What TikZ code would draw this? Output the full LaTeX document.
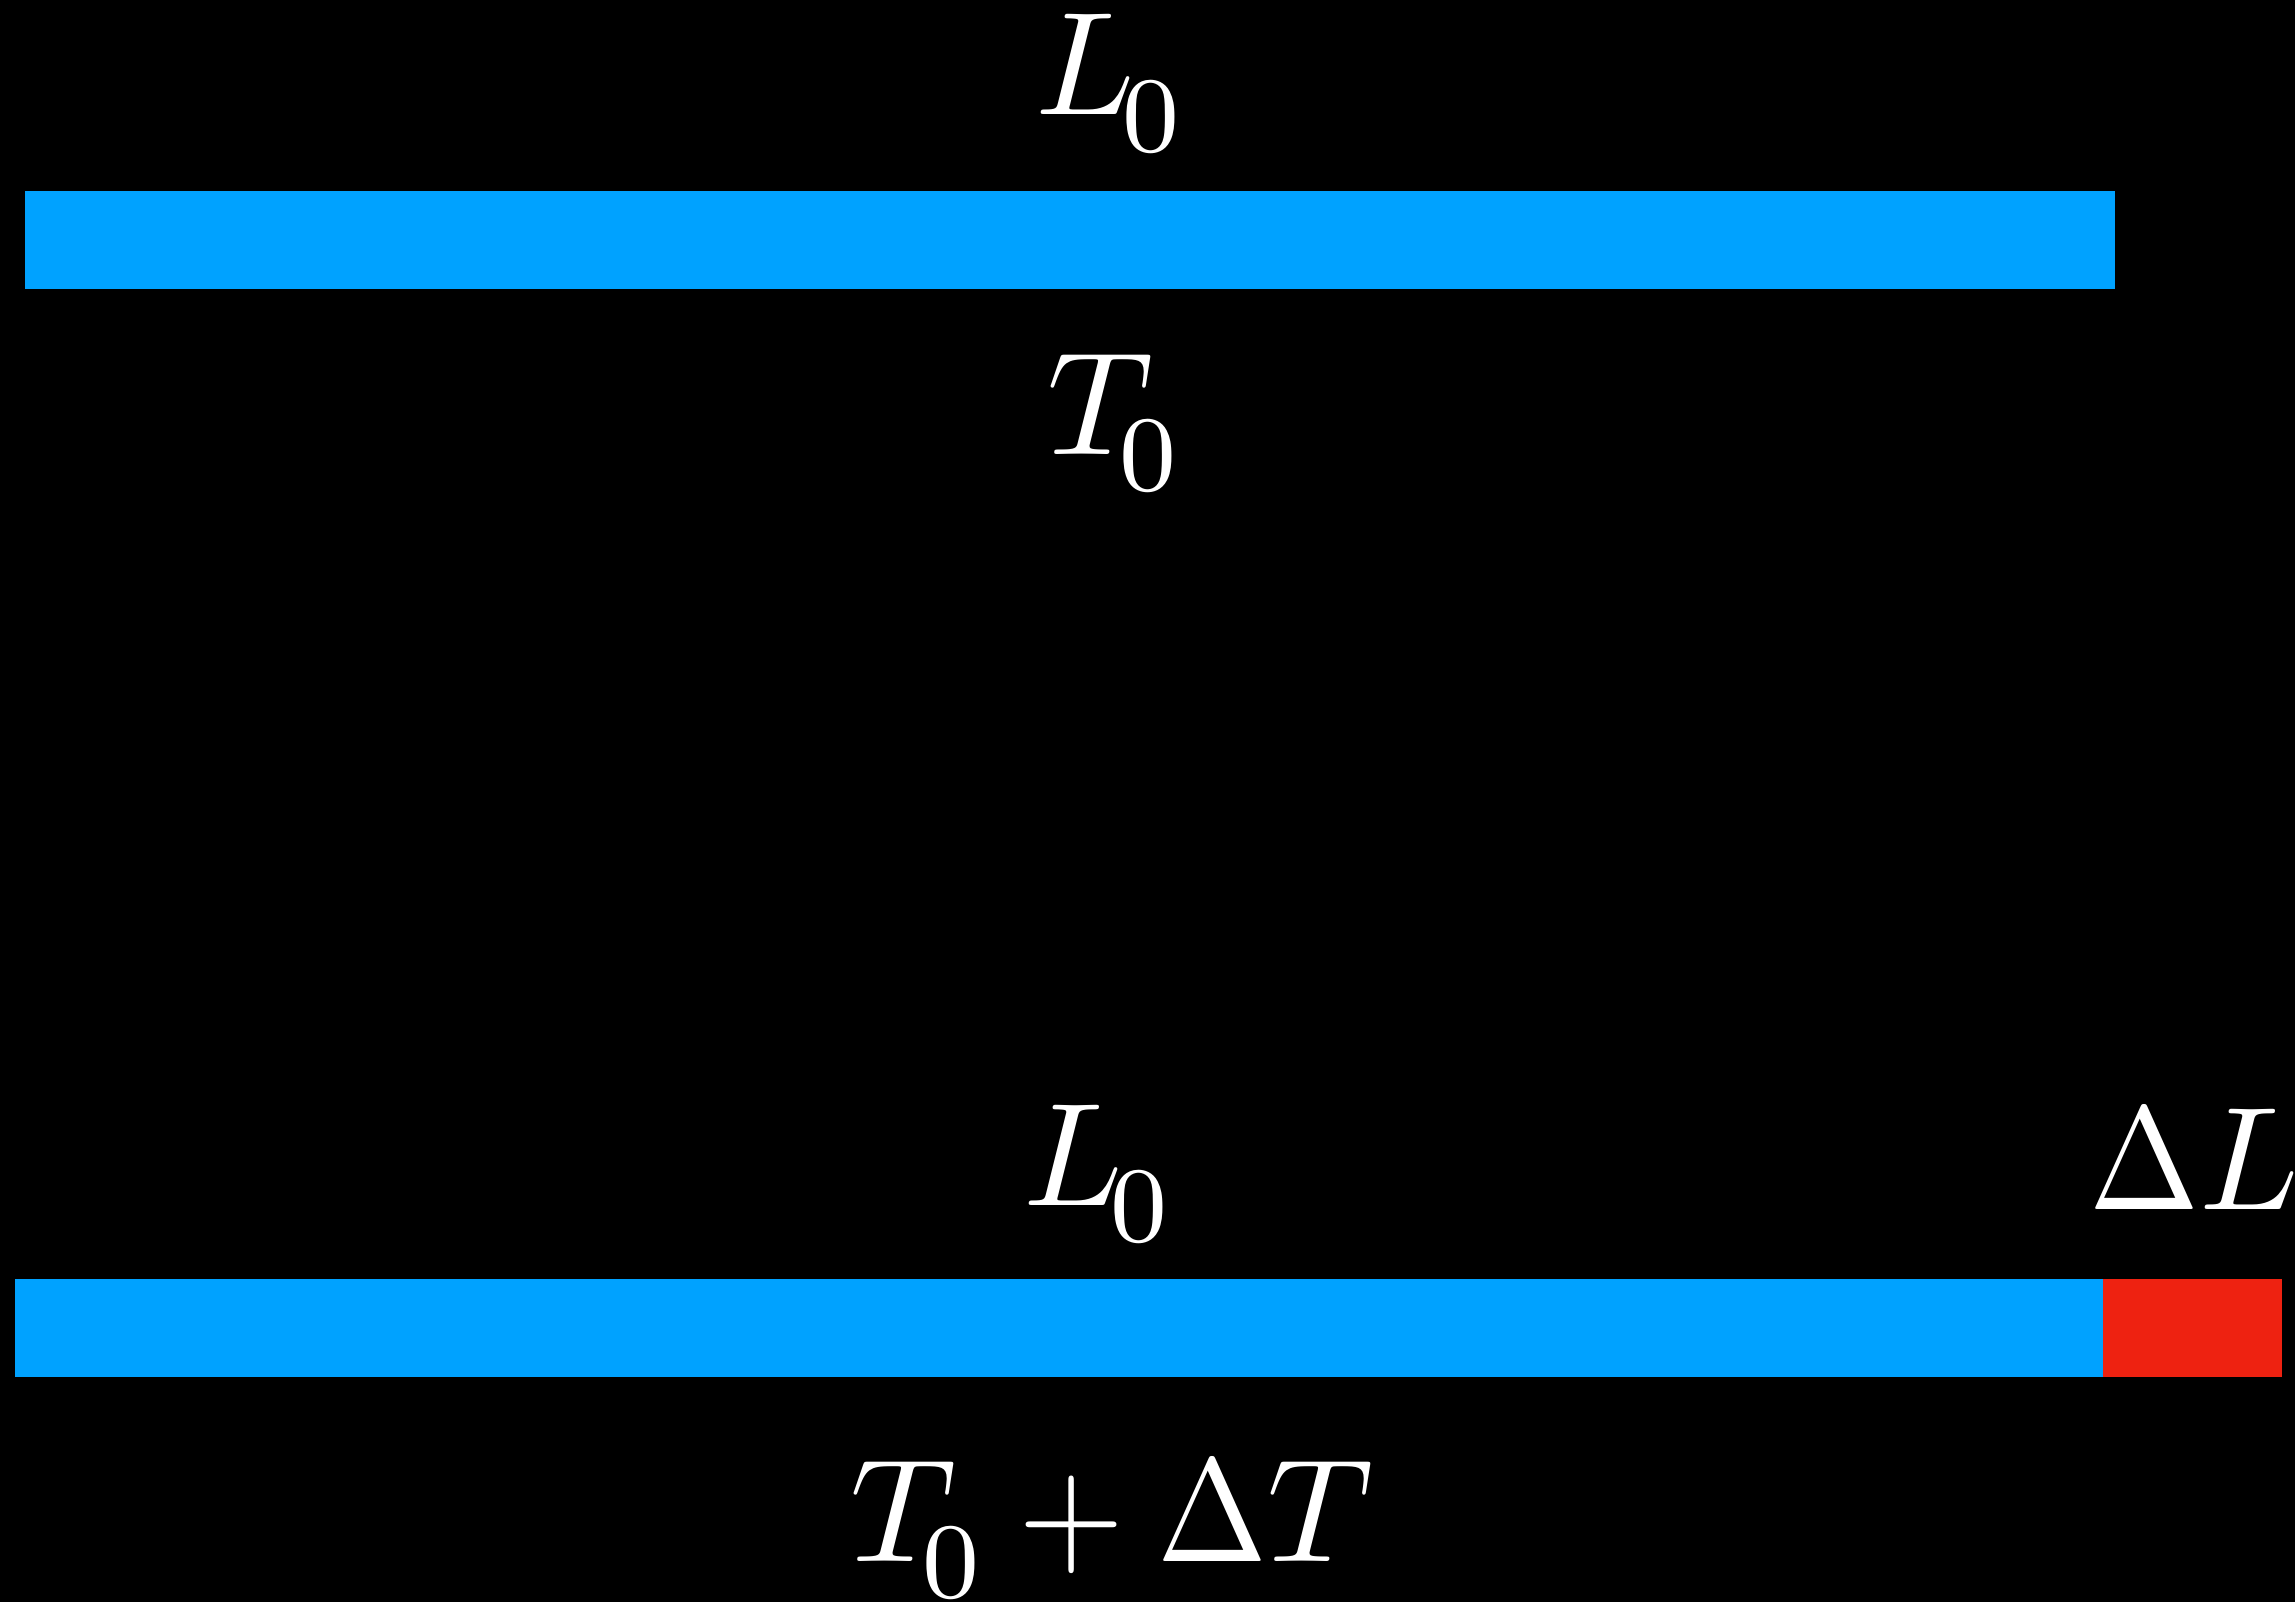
\documentclass[tikz,border=0pt]{standalone}
\usepackage{graphicx}
\definecolor{barblue}{RGB}{0,162,255}
\definecolor{barred}{RGB}{238,34,17}
\newcommand\mlabel[1]{\fontsize{10.95}{13}\selectfont$\fontdimen16\textfont2=2.75pt #1$}
\newcommand\nDelta{\mathord{\scalebox{0.9}[1]{$\Delta$}}}
\newcommand\nplus{\mathbin{\scalebox{0.93}[1]{$+$}}}
\tikzset{
  lbl/.style={text=white, inner sep=0pt, anchor=base, scale=13.4},
  bluebar/.style={fill=barblue},
  redbar/.style={fill=barred}
}
\begin{document}
\begin{tikzpicture}[x=1pt,y=-1pt]
  \fill[black] (0,0) rectangle (2295,1602);
  \useasboundingbox (0,0) rectangle (2295,1602);
  % top bar
  \fill[bluebar] (25,191) rectangle (2115,289);
  \node[lbl] (ltop) at (1111,115) {\mlabel{L_{\kern-1pt 0}}};
  \node[lbl] (ttop) at (1115,454) {\mlabel{T_{\kern-1pt 0}}};
  % bottom bar
  \fill[bluebar] (15,1279) rectangle (2103,1377);
  \fill[redbar] (2103,1279) rectangle (2282,1377);
  \node[lbl] (lbot) at (1099,1205) {\mlabel{L_{\kern-1pt 0}}};
  \node[lbl] (dl) at (2194,1209) {\mlabel{\nDelta L}};
  \node[lbl] (tbot) at (1112,1561) {\mlabel{T_{\kern-1pt 0}\nplus\nDelta T}};
\end{tikzpicture}
\end{document}
